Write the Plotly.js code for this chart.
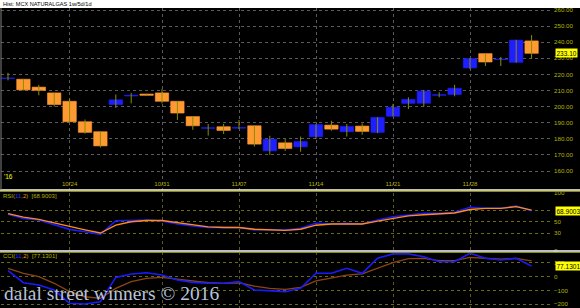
<!DOCTYPE html>
<html><head><meta charset="utf-8">
<script src="https://cdn.plot.ly/plotly-3.0.1.min.js"></script>
<style>html,body{margin:0;padding:0;background:#000;}#c{width:580px;height:308px;}</style>
</head><body><div id="c"></div>
<script>
const dates = ["10/18","10/19","10/20","10/21","10/24","10/25","10/26","10/27","10/28","10/30",
  "10/31","11/01","11/02","11/03","11/04","11/07","11/08","11/09","11/10","11/11",
  "11/14","11/15","11/16","11/17","11/18","11/21","11/22","11/23","11/24","11/25",
  "11/28","11/29","11/30","12/01","12/02"];
const tickDates = ["10/24","10/31","11/07","11/14","11/21","11/28"];
const open  = [217.5,217.0,212.1,208.5,203.3,190.6,184.4,201.3,206.6,207.8,208.5,203.3,193.8,186.5,187.5,186.6,188.1,172.5,177.5,175.0,181.3,188.5,184.4,187.9,184.0,194.0,202.0,202.1,207.0,207.5,224.0,232.9,229.2,227.5,240.8];
const high  = [221.0,217.2,213.5,208.6,205.0,192.0,184.6,207.5,208.5,208.1,211.0,203.5,194.0,189.2,189.2,191.7,188.3,181.9,179.8,181.4,189.0,191.2,189.2,189.6,193.5,201.7,205.8,210.4,208.9,213.5,230.0,233.0,230.8,241.5,244.4];
const low   = [216.3,210.2,207.0,200.0,190.4,183.2,174.6,199.2,202.0,206.6,202.0,191.7,185.6,182.0,183.0,186.0,175.2,170.0,172.5,172.0,179.8,185.0,181.4,182.5,183.5,193.9,198.5,200.0,205.8,206.4,223.3,225.2,225.2,227.3,229.8];
const close = [217.8,210.4,210.1,201.3,190.6,184.0,175.6,204.2,207.1,207.0,203.3,196.0,188.1,186.9,185.2,187.0,176.7,179.8,174.0,178.3,188.8,186.0,187.7,184.6,193.3,199.6,204.4,209.6,207.4,211.4,229.8,227.7,229.5,241.3,233.1];
const rsi       = [63,55.8,52.9,44.3,36.8,32.8,28.2,51.7,52.9,52.9,51.2,46,42.6,40.3,40.3,40,35.7,36.5,35.7,38.6,47.2,46,47.2,46,52.9,58.6,61.5,64.5,64.5,66.2,74.8,73.1,73.1,77,68.9];
const rsiSignal = [64,58,54,48,41,36,30.5,44,50,52,52,48,44,41,40,40,37,36,35,37,44,46,46,46,51,56,60,62,64,65,71,73,73,76,70];
const cci       = [44,-44,-61,-97,-194,-199,-182,-5,20,29,12,-24,-41,-48,-48,-36,-97,-102,-109,-85,25,25,61,25,134,166,166,146,109,109,171,134,122,134,77.13];
const cciSignal = [61,25,0,-48,-109,-146,-158,-85,-36,-12,-5,-17,-31,-44,-48,-44,-68,-85,-92,-78,-31,-12,12,20,61,102,131,134,117,117,141,134,127,134,115];

const idx = dates.map((d,i)=>i);
const tickIdx = tickDates.map(d=>dates.indexOf(d));
const UP='#1e1eff', DN='#ff9a33', WICK='#8c8c00', LBL='#b4b400';

const wx=[], wy=[];
idx.forEach(i=>{wx.push(i,i,null); wy.push(low[i],high[i],null);});
const base = idx.map(i=>Math.min(open[i],close[i]));
const hgt = idx.map(i=>Math.max(Math.abs(close[i]-open[i]),0.25));
const cols = idx.map(i=>close[i]>=open[i]?UP:DN);

const traces = [
 {type:'scatter',mode:'lines',x:wx,y:wy,line:{color:WICK,width:1},xaxis:'x',yaxis:'y',hoverinfo:'skip'},
 {type:'bar',x:idx,y:hgt,base:base,width:0.87,marker:{color:cols,line:{color:cols,width:0.6}},xaxis:'x',yaxis:'y'},
 {type:'scatter',mode:'lines',x:idx,y:rsi,line:{color:'#1a1aff',width:1.6},xaxis:'x2',yaxis:'y2'},
 {type:'scatter',mode:'lines',x:idx,y:rsiSignal,line:{color:'#ff8c1a',width:1.4},xaxis:'x2',yaxis:'y2'},
 {type:'scatter',mode:'lines',x:idx,y:cciSignal,line:{color:'#8b4513',width:1.3},xaxis:'x3',yaxis:'y3'},
 {type:'scatter',mode:'lines',x:idx,y:cci,line:{color:'#1a1aff',width:1.6},xaxis:'x3',yaxis:'y3'}
];
const xr=[-0.455,35.39];
const tf={family:'Liberation Sans, Arial',size:6.2,color:LBL};
const xbase={range:xr,tickmode:'array',tickvals:tickIdx,showline:false,zeroline:false,ticks:'',griddash:'dot',fixedrange:true};
const layout = {
 width:580,height:308,margin:{l:1,r:27,t:8,b:0},
 paper_bgcolor:'#000',plot_bgcolor:'#000',showlegend:false,
 xaxis:Object.assign({},xbase,{anchor:'y',ticktext:tickDates,ticklabelposition:'inside',tickfont:tf,gridcolor:'#5a5a5a'}),
 xaxis2:Object.assign({},xbase,{anchor:'y2',matches:'x',showticklabels:false,gridcolor:'#5a5a20'}),
 xaxis3:Object.assign({},xbase,{anchor:'y3',matches:'x',showticklabels:false,gridcolor:'#5a5a20'}),
 yaxis:{domain:[0.3933,1],range:[148.2,261.24],side:'right',anchor:'x',dtick:10,tick0:0,tickformat:'.2f',tickfont:tf,gridcolor:'#5a5a5a',griddash:'dot',zeroline:false,ticks:'',showline:false},
 yaxis2:{domain:[0.191,0.3843],range:[0,100],side:'right',anchor:'x2',tickmode:'array',tickvals:[0,30,50,70,100],ticktext:['0','30','50','','100'],tickfont:tf,gridcolor:'#6a6a10',griddash:'dot',zeroline:false,ticks:'',showline:false},
 yaxis3:{domain:[0,0.1867],range:[-228,180],side:'right',anchor:'x3',tickmode:'array',tickvals:[-200,-100,0,100],tickfont:tf,gridcolor:'#6a6a10',griddash:'dot',zeroline:false,ticks:'',showline:false},
 shapes:[
  {type:'rect',xref:'paper',yref:'paper',x0:-0.01,x1:1.06,y0:1.0,y1:1.04,fillcolor:'#fff',line:{width:0}},
  {type:'line',xref:'paper',yref:'paper',x0:-0.01,x1:1.06,y0:0.3933,y1:0.3933,line:{color:'#ffffff',width:1.5}},
  {type:'line',xref:'paper',yref:'paper',x0:-0.01,x1:1.06,y0:0.3883,y1:0.3883,line:{color:'#8c8c00',width:1}},
  {type:'line',xref:'paper',yref:'paper',x0:-0.01,x1:1.06,y0:0.19,y1:0.19,line:{color:'#ffffff',width:1.5}},
  {type:'line',xref:'paper',yref:'paper',x0:-0.01,x1:1.06,y0:0.185,y1:0.185,line:{color:'#8c8c00',width:1}},
  {type:'line',xref:'paper',yref:'paper',x0:0,x1:0,y0:0.3933,y1:1,line:{color:'#808080',width:1}}
 ],
 annotations:[
  {xref:'paper',yref:'paper',x:0,y:1.0135,xanchor:'left',yanchor:'middle',text:'Hist: MCX NATURALGAS 1w/5d/1d',showarrow:false,font:{family:'Liberation Sans, Arial',size:5.6,color:'#000'}},
  {xref:'paper',yref:'paper',x:0.002,y:0.44,xanchor:'left',yanchor:'middle',text:"'16",showarrow:false,font:{family:'Liberation Sans, Arial',size:6.5,color:'#ffff00'}},
  {xref:'paper',yref:'paper',x:0,y:0.372,xanchor:'left',yanchor:'middle',text:'RSI(<span style="color:#3030ff">11</span>,<span style="color:#ff8c1a">2</span>)  [68.9003]',showarrow:false,font:{family:'Liberation Sans, Arial',size:6,color:LBL}},
  {xref:'paper',yref:'paper',x:0,y:0.172,xanchor:'left',yanchor:'middle',text:'CCI(<span style="color:#3030ff">11</span>,<span style="color:#ff8c1a">2</span>)  [77.1301]',showarrow:false,font:{family:'Liberation Sans, Arial',size:6,color:LBL}},
  {xref:'paper',yref:'y',x:1.003,y:close[close.length-1],xanchor:'left',yanchor:'middle',text:close[close.length-1].toFixed(2),showarrow:false,bgcolor:'#ffff00',borderpad:0.5,font:{family:'Liberation Sans, Arial',size:6.5,color:'#000'}},
  {xref:'paper',yref:'y2',x:1.003,y:rsi[rsi.length-1],xanchor:'left',yanchor:'middle',text:'68.9003',showarrow:false,bgcolor:'#ffff00',borderpad:0.5,font:{family:'Liberation Sans, Arial',size:6.5,color:'#000'}},
  {xref:'paper',yref:'y3',x:1.003,y:cci[cci.length-1],xanchor:'left',yanchor:'middle',text:'77.1301',showarrow:false,bgcolor:'#ffff00',borderpad:0.5,font:{family:'Liberation Sans, Arial',size:6.5,color:'#000'}},
  {xref:'paper',yref:'paper',x:0.002,y:0.047,xanchor:'left',yanchor:'middle',text:'dalal street winners © 2016',showarrow:false,font:{family:'Liberation Serif, Times New Roman, serif',size:19.5,color:'#b9c4dc'}}
 ]
};
Plotly.newPlot('c',traces,layout,{displayModeBar:false,staticPlot:true});
</script></body></html>
